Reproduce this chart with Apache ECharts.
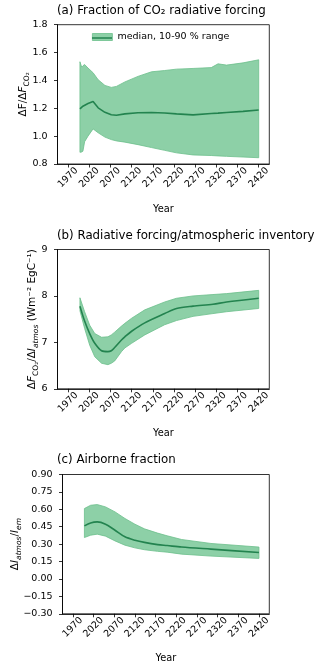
<!DOCTYPE html>
<html>
<head>
<meta charset="utf-8">
<script src="https://cdn.jsdelivr.net/npm/echarts@6/dist/echarts.min.js"></script>
<style>
  html, body { margin: 0; padding: 0; background: #fff; }
  #main { width: 320px; height: 667px; }
</style>
</head>
<body>
<div id="main"></div>
<script>
// tick years shared by the three panels
var yearTicks = [1970, 2020, 2070, 2120, 2170, 2220, 2270, 2320, 2370, 2420];

// (a) fraction of CO2 radiative forcing
var yearsA  = [1998, 2002, 2005, 2009, 2017, 2029, 2041, 2057, 2072, 2084, 2104, 2135, 2167, 2198, 2226, 2265, 2308, 2324, 2344, 2383, 2420];
var upperA  = [1.534, 1.496, 1.505, 1.514, 1.489, 1.455, 1.405, 1.364, 1.350, 1.357, 1.389, 1.429, 1.462, 1.471, 1.481, 1.486, 1.492, 1.519, 1.510, 1.526, 1.548];
var lowerA  = [0.884, 0.886, 0.892, 0.960, 1.000, 1.052, 1.024, 0.993, 0.975, 0.966, 0.957, 0.939, 0.918, 0.898, 0.880, 0.865, 0.861, 0.858, 0.855, 0.850, 0.845];
var medianA = [1.196, 1.184, 1.215, 1.224, 1.234, 1.248, 1.203, 1.171, 1.153, 1.150, 1.160, 1.168, 1.170, 1.166, 1.160, 1.153, 1.162, 1.165, 1.170, 1.178, 1.188];

// (b) radiative forcing / atmospheric inventory
var yearsB  = [1998, 2009, 2021, 2033, 2049, 2064, 2072, 2080, 2096, 2104, 2120, 2151, 2198, 2226, 2265, 2312, 2344, 2420];
var upperB  = [7.96, 7.66, 7.37, 7.19, 7.11, 7.12, 7.16, 7.22, 7.35, 7.41, 7.52, 7.70, 7.87, 7.95, 8.00, 8.03, 8.05, 8.12];
var lowerB  = [7.68, 7.30, 6.94, 6.69, 6.55, 6.52, 6.55, 6.60, 6.80, 6.88, 6.98, 7.16, 7.38, 7.47, 7.56, 7.62, 7.66, 7.73];
var medianB = [7.78, 7.46, 7.19, 6.98, 6.82, 6.80, 6.82, 6.89, 7.05, 7.12, 7.24, 7.42, 7.62, 7.73, 7.78, 7.82, 7.87, 7.95];

// (c) airborne fraction
var yearsC  = [1998, 2013, 2029, 2049, 2072, 2096, 2120, 2143, 2175, 2198, 2233, 2304, 2420];
var upperC  = [0.607, 0.635, 0.641, 0.621, 0.578, 0.521, 0.472, 0.432, 0.395, 0.372, 0.340, 0.306, 0.275];
var lowerC  = [0.357, 0.377, 0.386, 0.369, 0.328, 0.291, 0.268, 0.252, 0.238, 0.231, 0.214, 0.197, 0.177];
var medianC = [0.457, 0.483, 0.492, 0.472, 0.420, 0.363, 0.334, 0.315, 0.296, 0.288, 0.275, 0.257, 0.228];

var FONT = 'DejaVu Sans';
var FILL = '#8dd0a7';
var EDGE = '#6cbf8b';
var LINE = '#23834f';
var LEGEND_NAME = 'median, 10-90 % range';

var chart = echarts.init(document.getElementById('main'));

var gridTops = [24.7, 249.5, 474.5];

function pairs(xs, ys) {
  return xs.map(function (x, i) { return [x, ys[i]]; });
}

// shaded 10-90 % range drawn as one polygon through the axis scales
function band(idx, name, xs, lo, hi) {
  return {
    type: 'custom',
    name: name,
    xAxisIndex: idx,
    yAxisIndex: idx,
    silent: true,
    itemStyle: { color: FILL },
    data: xs.map(function (x, i) { return [x, lo[i], hi[i]]; }),
    encode: { x: 0, y: [1, 2] },
    renderItem: function (params, api) {
      if (params.dataIndex !== 0) return null;
      var pts = [];
      for (var i = 0; i < xs.length; i++) pts.push(api.coord([xs[i], hi[i]]));
      for (var j = xs.length - 1; j >= 0; j--) pts.push(api.coord([xs[j], lo[j]]));
      return {
        type: 'polygon',
        shape: { points: pts },
        style: { fill: FILL, stroke: EDGE, lineWidth: 0.8 }
      };
    }
  };
}

function median(idx, name, xs, ys, smooth) {
  return {
    type: 'line',
    name: name,
    xAxisIndex: idx,
    yAxisIndex: idx,
    data: pairs(xs, ys),
    showSymbol: false,
    symbol: 'none',
    smooth: smooth,
    silent: true,
    lineStyle: { color: LINE, width: 1.6 },
    z: 5
  };
}

var yAxisDefs = [
  { min: 0.8, max: 1.8, interval: 0.2, dec: 1, nameGap: 27,
    name: '{t|ΔF/Δ}{i|F}{s|CO₂}' },
  { min: 6, max: 9, interval: 1, dec: 0, nameGap: 18,
    name: '{t|Δ}{i|F}{s|CO₂}{t|/Δ}{i|I}{si|atmos}{t| (Wm⁻² EgC⁻¹)}' },
  { min: -0.3, max: 0.9, interval: 0.15, dec: 2, nameGap: 40,
    name: '{t|Δ}{i|I}{si|atmos}{t|/}{i|I}{si|em}' }
];

var nameRich = {
  t: { fontSize: 10.5, fontFamily: FONT, color: '#000', lineHeight: 14 },
  i: { fontSize: 10.5, fontFamily: FONT, fontStyle: 'italic', color: '#000', lineHeight: 14 },
  s: { fontSize: 7.5, fontFamily: FONT, color: '#000', lineHeight: 8, padding: [7, 0, 0, 0] },
  si: { fontSize: 7.5, fontFamily: FONT, fontStyle: 'italic', color: '#000', lineHeight: 8, padding: [7, 0, 0, 0] }
};

var option = {
  animation: false,
  backgroundColor: '#fff',
  textStyle: { fontFamily: FONT },
  title: [
    { text: '(a) Fraction of CO₂ radiative forcing', left: 57, top: 4.5 },
    { text: '(b) Radiative forcing/atmospheric inventory', left: 57, top: 229.5 },
    { text: '(c) Airborne fraction', left: 57, top: 454.3 }
  ].map(function (t) {
    t.padding = 0;
    t.textStyle = { fontFamily: FONT, fontSize: 11.8, fontWeight: 'normal', color: '#000' };
    return t;
  }),
  legend: {
    left: 92,
    top: 32,
    padding: 0,
    itemWidth: 20,
    itemHeight: 7,
    selectedMode: false,
    textStyle: { fontFamily: FONT, fontSize: 9.5, color: '#000' },
    data: [{ name: LEGEND_NAME, icon: 'rect', itemStyle: { color: FILL, borderColor: EDGE, borderWidth: 0.8 } }]
  },
  graphic: [{
    type: 'line', z: 100,
    shape: { x1: 92, y1: 38, x2: 112, y2: 38 },
    style: { stroke: LINE, lineWidth: 1.5 }
  }],
  grid: gridTops.map(function (top) {
    return { left: 57.5, top: top, width: 211.8, height: 139.3, show: true,
             borderColor: '#000', borderWidth: 0.8, backgroundColor: 'transparent' };
  }),
  xAxis: [0, 1, 2].map(function (i) {
    return {
      gridIndex: i, type: 'value', min: 1945, max: 2445,
      name: 'Year', nameLocation: 'middle', nameGap: 40, nameMoveOverlap: false,
      nameTextStyle: { fontFamily: FONT, fontSize: 9.8, color: '#000' },
      axisLine: { show: true, onZero: false, lineStyle: { color: '#000', width: 0.8 } },
      axisTick: { show: true, length: 3.5, customValues: yearTicks, lineStyle: { color: '#000', width: 0.8 } },
      axisLabel: { customValues: yearTicks, rotate: 45, align: 'center', verticalAlign: 'middle',
                   margin: 13.5, fontFamily: FONT, fontSize: 9.5, color: '#000',
                   formatter: function (v) { return String(v); } },
      splitLine: { show: false }
    };
  }),
  yAxis: yAxisDefs.map(function (d, i) {
    return {
      gridIndex: i, type: 'value', min: d.min, max: d.max, interval: d.interval,
      name: d.name, nameLocation: 'middle', nameGap: d.nameGap, nameMoveOverlap: false,
      nameTextStyle: { rich: nameRich },
      axisLine: { show: true, onZero: false, lineStyle: { color: '#000', width: 0.8 } },
      axisTick: { show: true, length: 3.5, lineStyle: { color: '#000', width: 0.8 } },
      axisLabel: {
        margin: 10, fontFamily: FONT, fontSize: 9.5, color: '#000',
        formatter: function (v) { return v.toFixed(d.dec).replace('-', '\u2212'); }
      },
      splitLine: { show: false }
    };
  }),
  series: [
    band(0, LEGEND_NAME, yearsA, lowerA, upperA),
    median(0, 'median a', yearsA, medianA, false),
    band(1, 'range b', yearsB, lowerB, upperB),
    median(1, 'median b', yearsB, medianB, 0.3),
    band(2, 'range c', yearsC, lowerC, upperC),
    median(2, 'median c', yearsC, medianC, 0.3)
  ]
};

chart.setOption(option);
</script>
</body>
</html>
